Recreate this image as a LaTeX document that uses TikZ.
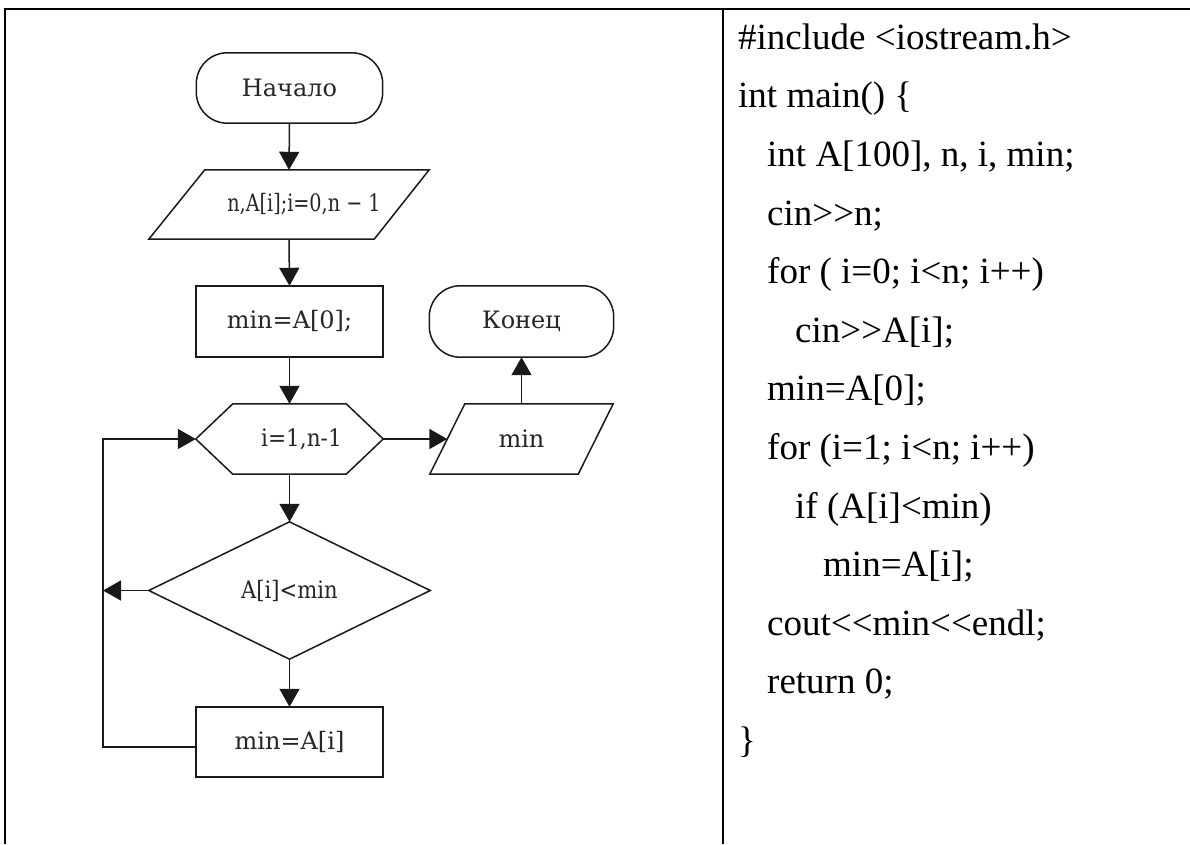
\documentclass[tikz,border=0pt]{standalone}
\usepackage{fontspec}
\usepackage{graphicx}
\newfontfamily\codefont{Liberation Serif}
\newfontfamily\chartfont{DejaVu Serif}
\usetikzlibrary{arrows.meta}

\tikzset{
  flow/.style={draw=none, minimum width=187pt, minimum height=70pt, inner sep=0pt,
    font=\chartfont\fontsize{24}{28}\selectfont, text=black!85},
  outline/.style={draw=black!90, line width=1.5pt, line join=miter},
  arr/.style={outline, -{Triangle[length=18pt,width=20pt]}},
  frame/.style={line width=2.6pt, draw=black},
  code/.style={anchor=base west, inner sep=0pt, font=\codefont\fontsize{37}{44}\selectfont},
}

\begin{document}
\begin{tikzpicture}[x=1pt,y=-1pt]
\useasboundingbox (0,0) rectangle (1190,844);

% table rules
\draw[frame] (3.7,9) -- (1190,9);
\draw[frame] (5,9) -- (5,844);
\draw[frame] (723,9) -- (723,844);

% flowchart blocks
\node[flow, minimum width=186pt] (start) at (289.5,88) {Начало};
\draw[outline, rounded corners=31pt] (start.south west) rectangle (start.north east);

\node[flow, minimum width=280pt, minimum height=69pt] (inp) at (289,204.5)
  {\hspace*{30pt}\scalebox{0.8}[1]{n,A[i];i=0,n − 1}};
\draw[outline] ([xshift=56pt]inp.north west) -- (inp.north east)
  -- ([xshift=-55pt]inp.south east) -- (inp.south west) -- cycle;

\node[flow, minimum height=71pt] (init) at (289.5,321.5) {min=A[0];};
\draw[outline] (init.south west) rectangle (init.north east);

\node[flow] (loop) at (289.5,439) {\hspace*{24pt}\scalebox{0.9}[1]{i=1,n-1}};
\draw[outline] (loop.west) -- ([xshift=37pt]loop.north west) -- ([xshift=-37pt]loop.north east)
  -- (loop.east) -- ([xshift=-37pt]loop.south east) -- ([xshift=37pt]loop.south west) -- cycle;

\node[flow, minimum width=281pt, minimum height=137pt] (cond) at (289.5,590.5)
  {\scalebox{0.88}[1]{A[i]<min}};
\draw[outline] (cond.north) -- (cond.east) -- (cond.south) -- (cond.west) -- cycle;

\node[flow] (upd) at (289.5,742) {min=A[i]};
\draw[outline] (upd.south west) rectangle (upd.north east);

\node[flow, minimum width=183pt] (out) at (521.5,439) {min};
\draw[outline] ([xshift=35pt]out.north west) -- (out.north east)
  -- ([xshift=-35pt]out.south east) -- (out.south west) -- cycle;

\node[flow, minimum width=184pt, minimum height=71pt] (stop) at (521.5,321.5) {Конец};
\draw[outline, rounded corners=31pt] (stop.south west) rectangle (stop.north east);

% connectors
\coordinate (back) at (103,0);
\coordinate (outleft) at ([xshift=17.5pt]out.west);
\coordinate (updleft) at ([yshift=-5pt]upd.west);

\draw[arr] (start.south) -- (inp.north);
\draw[arr] (inp.south) -- (init.north);
\draw[arr] (init.south) -- (loop.north);
\draw[arr] (loop.south) -- (cond.north);
\draw[arr] (cond.south) -- (upd.north);
\draw[arr] (updleft) -- (updleft -| back) -- (loop.west -| back) -- (loop.west);
\draw[arr] (cond.west) -- (cond.west -| back);
\draw[arr] (loop.east) -- (outleft);
\draw[arr] (out.north) -- (stop.south);

% program text
\node[code] (c0)  at (738,49)  {\#include <iostream.h>};
\node[code] (c1)  at (738,107.5) {int main() \{};
\node[code] (c2)  at (767,166) {int A[100], n, i, min;};
\node[code] (c3)  at (767,225) {cin>>n;};
\node[code] (c4)  at (767,283.5) {for ( i=0; i<n; i++)};
\node[code] (c5)  at (795,342) {cin>>A[i];};
\node[code] (c6)  at (767,400.5) {min=A[0];};
\node[code] (c7)  at (767,459) {for (i=1; i<n; i++)};
\node[code] (c8)  at (795,518) {if (A[i]<min)};
\node[code] (c9)  at (823,576.5) {min=A[i];};
\node[code] (c10) at (767,635) {cout<<min<<endl;};
\node[code] (c11) at (767,693.5) {return 0;};
\node[code] (c12) at (738,752) {\}};
\end{tikzpicture}
\end{document}
